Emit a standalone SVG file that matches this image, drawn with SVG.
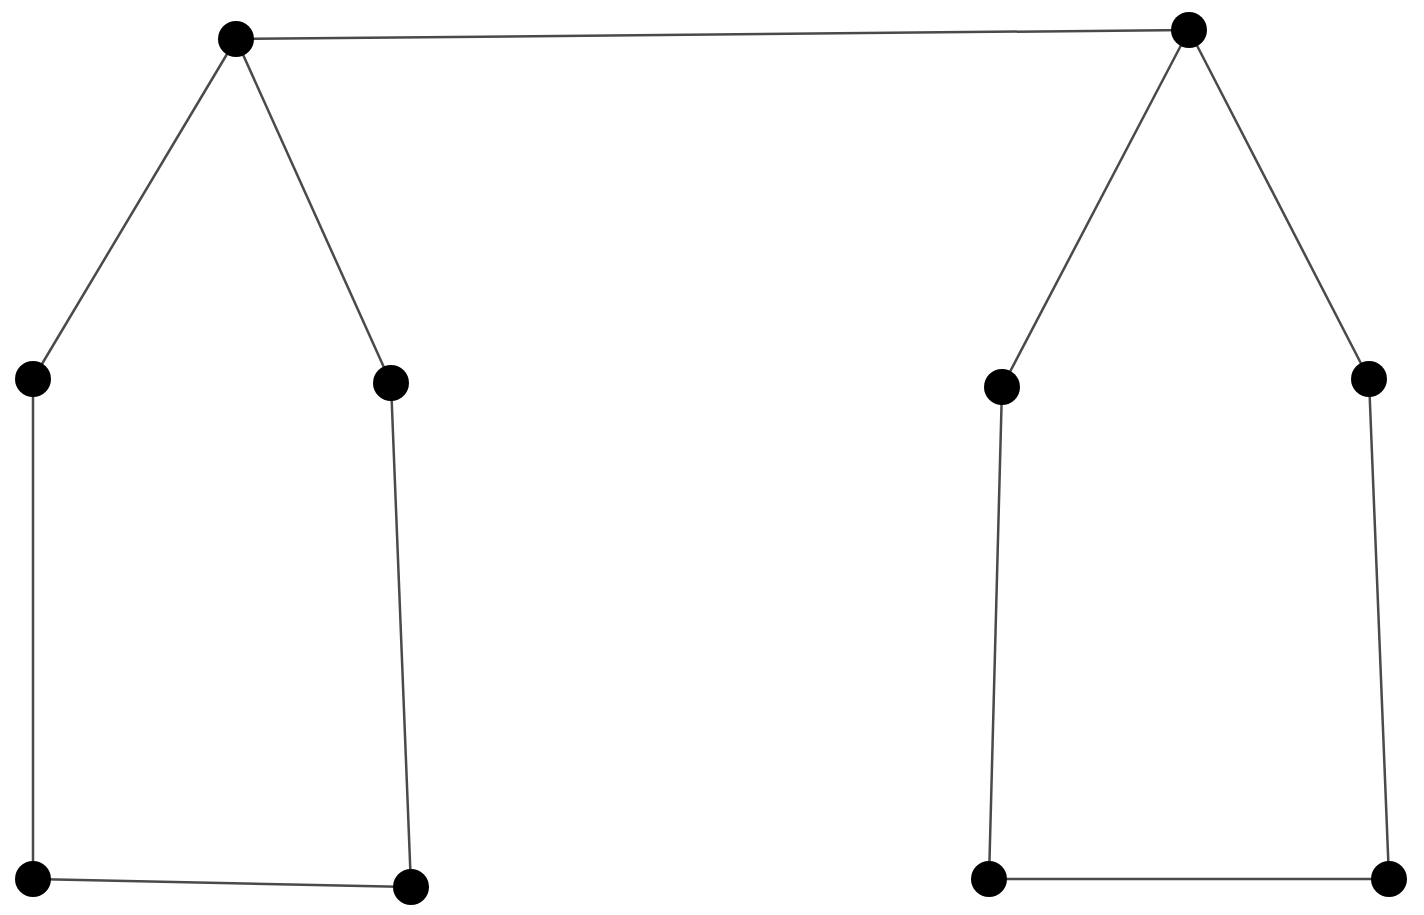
<svg xmlns="http://www.w3.org/2000/svg" width="1424" height="915" viewBox="0 0 1424 915">
<style>
.edge{stroke:#4a4a4a;stroke-width:2.5;fill:none}
.node{fill:#000}
</style>
<rect width="1424" height="915" fill="#fff"/>
<g id="connectors">
<line class="edge" x1="236" y1="39" x2="1189" y2="30"/>
<line class="edge" x1="236" y1="39" x2="33" y2="379"/>
<line class="edge" x1="236" y1="39" x2="391" y2="383"/>
<line class="edge" x1="33" y1="379" x2="33" y2="879"/>
<line class="edge" x1="391" y1="383" x2="411" y2="887"/>
<line class="edge" x1="33" y1="879" x2="411" y2="887"/>
<line class="edge" x1="1189" y1="30" x2="1002" y2="387"/>
<line class="edge" x1="1189" y1="30" x2="1369" y2="379"/>
<line class="edge" x1="1002" y1="387" x2="989" y2="879"/>
<line class="edge" x1="1369" y1="379" x2="1389" y2="879"/>
<line class="edge" x1="989" y1="879" x2="1389" y2="879"/>
</g>
<g id="n1"><circle class="node" cx="236" cy="39" r="18"/></g>
<g id="n2"><circle class="node" cx="1189" cy="30" r="18"/></g>
<g id="n3"><circle class="node" cx="33" cy="379" r="18"/></g>
<g id="n4"><circle class="node" cx="391" cy="383" r="18"/></g>
<g id="n5"><circle class="node" cx="1002" cy="387" r="18"/></g>
<g id="n6"><circle class="node" cx="1369" cy="379" r="18"/></g>
<g id="n7"><circle class="node" cx="33" cy="879" r="18"/></g>
<g id="n8"><circle class="node" cx="411" cy="887" r="18"/></g>
<g id="n9"><circle class="node" cx="989" cy="879" r="18"/></g>
<g id="n10"><circle class="node" cx="1389" cy="879" r="18"/></g>
</svg>
